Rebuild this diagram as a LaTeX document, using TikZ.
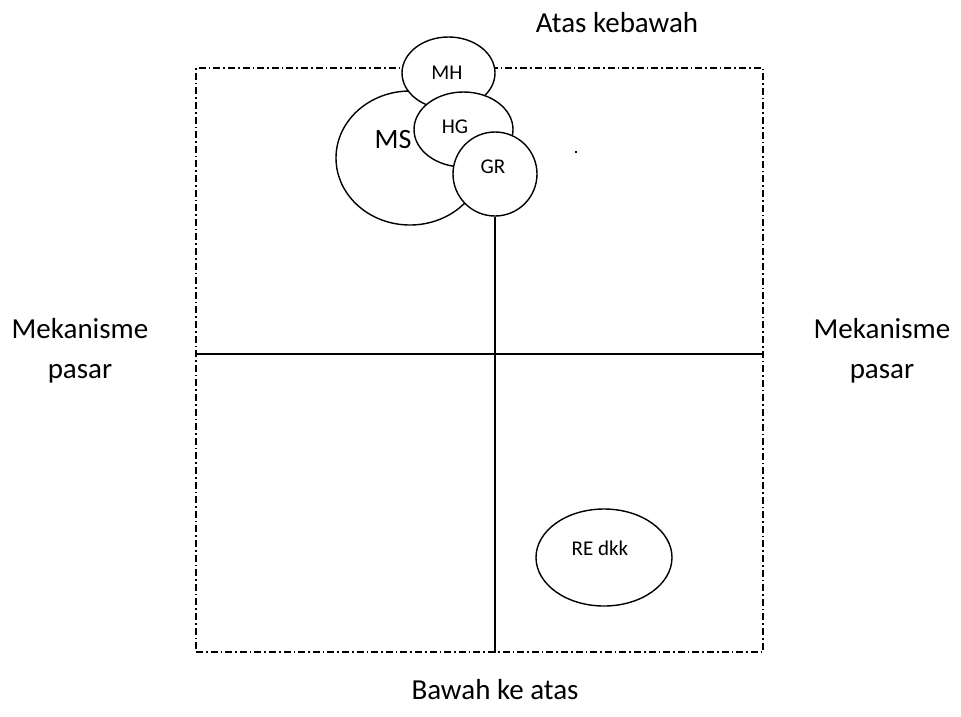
\documentclass[tikz,border=0pt]{standalone}
\usepackage{fontspec}
\setmainfont{Carlito}
\usetikzlibrary{shapes.geometric}
\begin{document}
\begin{tikzpicture}[x=1pt,y=-1pt,
  frame/.style={line width=1.3pt,dash pattern=on 7pt off 3pt on 1.6pt off 3pt},
  axis/.style={line width=1.4pt},
  blob/.style={ellipse,draw,line width=1.4pt,fill=white,inner sep=0pt},
  big/.style={font=\fontsize{29}{40}\selectfont,align=center},
  small/.style={font=\fontsize{21}{24}\selectfont},
]
\useasboundingbox (0,0) rectangle (961,716);

% outer dash-dot frame
\node[draw,frame,minimum width=567pt,minimum height=584pt,inner sep=0pt] (frame) at (479.5,360) {};

% horizontal axis
\coordinate (hl) at (frame.west |- 0,354);
\coordinate (hr) at (frame.east |- 0,354);
\draw[axis] (hl) -- (hr);

% overlapping cluster near the top
\node[blob,minimum width=148pt,minimum height=134pt] (ms) at (410,158) {};
\node[blob,minimum width=93pt,minimum height=72pt] (mh) at (448.5,73) {};
\node[blob,minimum width=99pt,minimum height=75pt] (hg) at (463.5,129.5) {};
\node[blob,minimum width=84pt,minimum height=84pt] (gr) at (495,174) {};

\node[font=\fontsize{28}{32}\selectfont] (mst) at (393,140) {MS};
\node[small] (mht) at (447,73) {MH};
\node[small] (hgt) at (455,127) {HG};
\node[small] (grt) at (493,167) {GR};

% vertical axis from GR down to the frame
\coordinate (vb) at (gr.south |- frame.south);
\draw[axis] (gr.south) -- (vb);

% lower right ellipse
\node[blob,minimum width=136pt,minimum height=97pt] (re) at (604,557.5) {};
\node[small] (ret) at (600,548) {RE dkk};

% stray dot
\node[inner sep=0pt,minimum size=2pt,fill=black] (dot) at (576,152) {};

% outside labels
\node[big] (top) at (617,23) {Atas kebawah};
\node[big] (bottom) at (495,690) {Bawah ke atas};
\node[big] (left) at (80,351) {Mekanisme\\pasar};
\node[big] (right) at (882,351) {Mekanisme\\pasar};
\end{tikzpicture}
\end{document}
